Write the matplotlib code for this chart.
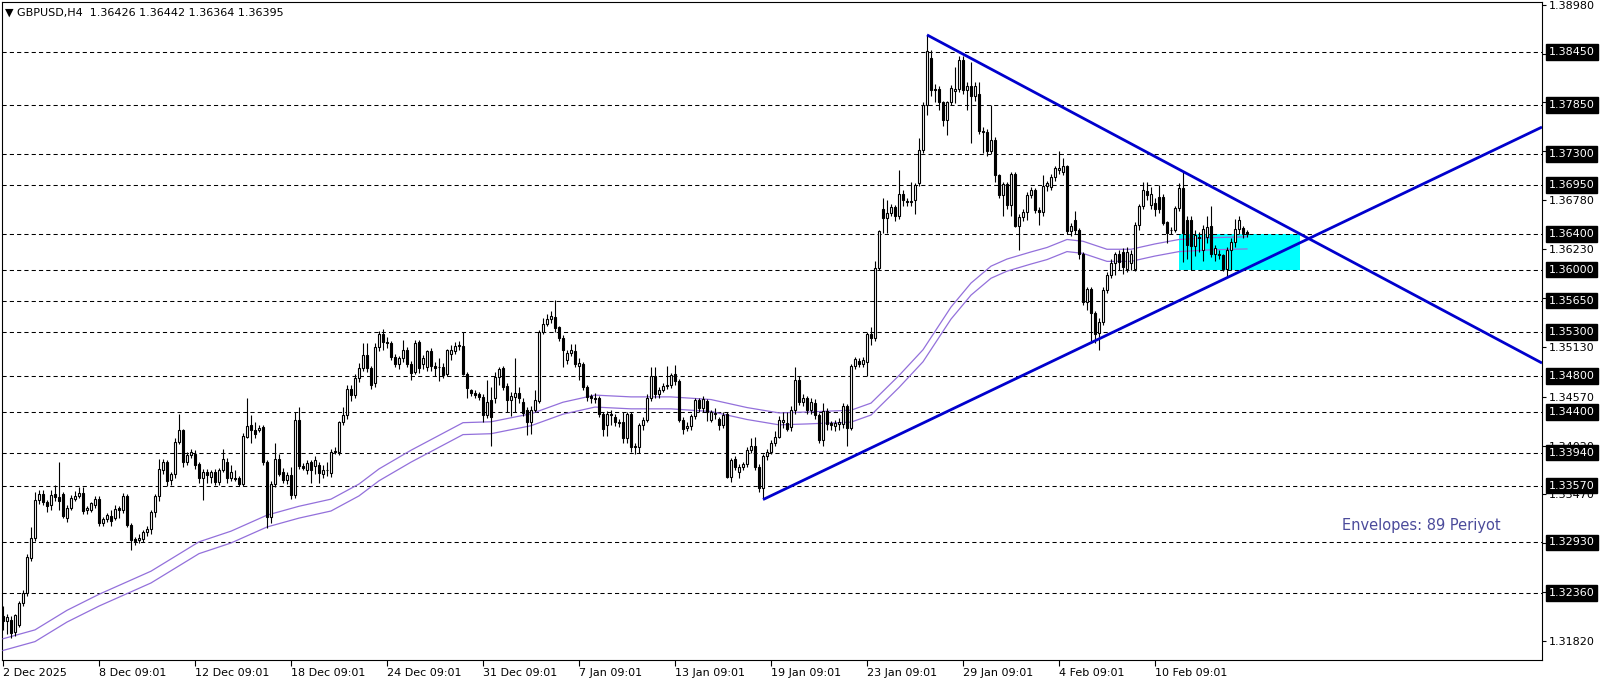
import matplotlib
matplotlib.use("Agg")
import matplotlib.pyplot as plt
from matplotlib.patches import Rectangle
from matplotlib.transforms import blended_transform_factory
import numpy as np

# GBPUSD H4 candles
opens = [
    1.3210, 1.3205, 1.3206, 1.3192, 1.3200, 1.3225, 1.3236, 1.3275, 1.3298, 1.3341,
    1.3348, 1.3338, 1.3335, 1.3348, 1.3344, 1.3348, 1.3321, 1.3332, 1.3342, 1.3345,
    1.3349, 1.3329, 1.3329, 1.3335, 1.3342, 1.3315, 1.3319, 1.3323, 1.3321, 1.3332,
    1.3329, 1.3345, 1.3313, 1.3297, 1.3296, 1.3297, 1.3305, 1.3308, 1.3327, 1.3345,
    1.3374, 1.3383, 1.3363, 1.3370, 1.3406, 1.3419, 1.3384, 1.3391, 1.3393, 1.3381,
    1.3366, 1.3372, 1.3367, 1.3372, 1.3361, 1.3374, 1.3384, 1.3366, 1.3366, 1.3365,
    1.3359, 1.3412, 1.3425, 1.3420, 1.3420, 1.3423, 1.3384, 1.3322, 1.3359, 1.3387,
    1.3372, 1.3363, 1.3369, 1.3346, 1.3431, 1.3379, 1.3374, 1.3383, 1.3379, 1.3380,
    1.3370, 1.3375, 1.3371, 1.3395, 1.3395, 1.3428, 1.3436, 1.3466, 1.3459, 1.3478,
    1.3489, 1.3504, 1.3489, 1.3472, 1.3513, 1.3528, 1.3519, 1.3517, 1.3502, 1.3494,
    1.3500, 1.3510, 1.3494, 1.3485, 1.3518, 1.3494, 1.3490, 1.3508, 1.3491, 1.3490,
    1.3490, 1.3483, 1.3505, 1.3508, 1.3514, 1.3514, 1.3483, 1.3464, 1.3461, 1.3460,
    1.3457, 1.3436, 1.3453, 1.3455, 1.3479, 1.3489, 1.3469, 1.3453, 1.3457, 1.3461,
    1.3451, 1.3442, 1.3429, 1.3442, 1.3452, 1.3530, 1.3539, 1.3544, 1.3547, 1.3535,
    1.3523, 1.3498, 1.3506, 1.3508, 1.3492, 1.3494, 1.3468, 1.3458, 1.3456, 1.3455,
    1.3438, 1.3425, 1.3436, 1.3434, 1.3427, 1.3429, 1.3410, 1.3437, 1.3402, 1.3400,
    1.3425, 1.3431, 1.3455, 1.3480, 1.3460, 1.3465, 1.3469, 1.3470, 1.3482, 1.3475,
    1.3431, 1.3422, 1.3424, 1.3435, 1.3453, 1.3444, 1.3452, 1.3431, 1.3437, 1.3432,
    1.3425, 1.3438, 1.3367, 1.3387, 1.3372, 1.3378, 1.3381, 1.3397, 1.3401, 1.3378,
    1.3354, 1.3390, 1.3395, 1.3405, 1.3412, 1.3428, 1.3427, 1.3423, 1.3442, 1.3476,
    1.3451, 1.3455, 1.3442, 1.3450, 1.3436, 1.3408, 1.3441, 1.3427, 1.3424, 1.3426,
    1.3426, 1.3446, 1.3422, 1.3491, 1.3497, 1.3494, 1.3496, 1.3527, 1.3523, 1.3602,
    1.3668, 1.3658, 1.3664, 1.3670, 1.3660, 1.3685, 1.3677, 1.3676, 1.3678, 1.3697,
    1.3735, 1.3785, 1.3838, 1.3803, 1.3803, 1.3788, 1.3768, 1.3788, 1.3801, 1.3803,
    1.3836, 1.3802, 1.3806, 1.3795, 1.3797, 1.3756, 1.3755, 1.3733, 1.3746, 1.3706,
    1.3684, 1.3696, 1.3673, 1.3707, 1.3649, 1.3659, 1.3665, 1.3684, 1.3689, 1.3667,
    1.3665, 1.3694, 1.3693, 1.3704, 1.3712, 1.3710, 1.3716, 1.3643, 1.3656, 1.3645,
    1.3618, 1.3563, 1.3578, 1.3551, 1.3529, 1.3541, 1.3577, 1.3594, 1.3607, 1.3617,
    1.3620, 1.3601, 1.3607, 1.3601, 1.3650, 1.3671, 1.3688, 1.3673, 1.3675, 1.3682,
    1.3682, 1.3653, 1.3644, 1.3645, 1.3669, 1.3692, 1.3656, 1.3656, 1.3626, 1.3635,
    1.3622, 1.3637, 1.3649, 1.3618, 1.3616, 1.3616, 1.3601, 1.3622, 1.3631, 1.3646,
    1.3647, 1.36426,
]
highs = [
    1.3222, 1.3213, 1.3210, 1.3213, 1.3227, 1.3240, 1.3280, 1.3310, 1.3350, 1.3352,
    1.3352, 1.3341, 1.3352, 1.3358, 1.3384, 1.3350, 1.3335, 1.3346, 1.3351, 1.3355,
    1.3355, 1.3334, 1.3339, 1.3345, 1.3345, 1.3322, 1.3326, 1.3330, 1.3335, 1.3334,
    1.3349, 1.3347, 1.3315, 1.3299, 1.3302, 1.3307, 1.3312, 1.3330, 1.3348, 1.3387,
    1.3387, 1.3386, 1.3372, 1.3410, 1.3438, 1.3421, 1.3395, 1.3398, 1.3397, 1.3383,
    1.3376, 1.3376, 1.3375, 1.3376, 1.3377, 1.3398, 1.3388, 1.3380, 1.3375, 1.3368,
    1.3416, 1.3455, 1.3436, 1.3428, 1.3425, 1.3425, 1.3386, 1.3362, 1.3405, 1.3392,
    1.3377, 1.3372, 1.3378, 1.3440, 1.3445, 1.3382, 1.3386, 1.3386, 1.3390, 1.3384,
    1.3380, 1.3384, 1.3398, 1.3400, 1.3430, 1.3445, 1.3470, 1.3470, 1.3482, 1.3495,
    1.3517, 1.3517, 1.3492, 1.3517, 1.3531, 1.3533, 1.3524, 1.3520, 1.3505, 1.3503,
    1.3521, 1.3513, 1.3497, 1.3521, 1.3521, 1.3504, 1.3510, 1.3512, 1.3496, 1.3500,
    1.3495, 1.3511, 1.3515, 1.3518, 1.3520, 1.3530, 1.3485, 1.3466, 1.3464, 1.3462,
    1.3460, 1.3476, 1.3468, 1.3485, 1.3490, 1.3492, 1.3472, 1.3462, 1.3500, 1.3468,
    1.3455, 1.3445, 1.3446, 1.3465, 1.3532, 1.3545, 1.3550, 1.3553, 1.3566, 1.3537,
    1.3526, 1.3510, 1.3516, 1.3516, 1.3500, 1.3496, 1.3470, 1.3460, 1.3461, 1.3458,
    1.3440, 1.3441, 1.3442, 1.3437, 1.3432, 1.3440, 1.3440, 1.3440, 1.3405, 1.3427,
    1.3434, 1.3460, 1.3490, 1.3490, 1.3468, 1.3472, 1.3492, 1.3484, 1.3493, 1.3477,
    1.3434, 1.3428, 1.3438, 1.3456, 1.3455, 1.3458, 1.3454, 1.3442, 1.3444, 1.3434,
    1.3440, 1.3440, 1.3388, 1.3390, 1.3381, 1.3383, 1.3400, 1.3410, 1.3412, 1.3381,
    1.3392, 1.3398, 1.3408, 1.3418, 1.3435, 1.3440, 1.3440, 1.3446, 1.3490, 1.3480,
    1.3460, 1.3458, 1.3455, 1.3454, 1.3439, 1.3450, 1.3444, 1.3430, 1.3431, 1.3433,
    1.3450, 1.3449, 1.3494, 1.3502, 1.3500, 1.3502, 1.3530, 1.3535, 1.3610, 1.3645,
    1.3680, 1.3678, 1.3674, 1.3673, 1.3712, 1.3690, 1.3680, 1.3699, 1.3697, 1.3748,
    1.3788, 1.3864, 1.3847, 1.3809, 1.3806, 1.3790, 1.3790, 1.3808, 1.3828, 1.3840,
    1.3840, 1.3811, 1.3833, 1.3811, 1.3811, 1.3760, 1.3758, 1.3785, 1.3749, 1.3708,
    1.3699, 1.3699, 1.3710, 1.3710, 1.3662, 1.3668, 1.3687, 1.3693, 1.3692, 1.3670,
    1.3706, 1.3700, 1.3707, 1.3716, 1.3733, 1.3725, 1.3718, 1.3652, 1.3666, 1.3647,
    1.3620, 1.3580, 1.3580, 1.3553, 1.3545, 1.3580, 1.3597, 1.3612, 1.3620, 1.3622,
    1.3624, 1.3625, 1.3622, 1.3654, 1.3674, 1.3699, 1.3699, 1.3693, 1.3681, 1.3695,
    1.3685, 1.3655, 1.3648, 1.3672, 1.3697, 1.3710, 1.3660, 1.3660, 1.3645, 1.3642,
    1.3650, 1.3660, 1.3671, 1.3628, 1.3622, 1.3618, 1.3625, 1.3635, 1.3657, 1.3660,
    1.3649, 1.36442,
]
lows = [
    1.3195, 1.3190, 1.3185, 1.3188, 1.3198, 1.3222, 1.3233, 1.3272, 1.3295, 1.3336,
    1.3335, 1.3327, 1.3330, 1.3340, 1.3329, 1.3320, 1.3316, 1.3330, 1.3340, 1.3343,
    1.3325, 1.3325, 1.3327, 1.3332, 1.3312, 1.3311, 1.3316, 1.3312, 1.3318, 1.3320,
    1.3326, 1.3310, 1.3284, 1.3290, 1.3292, 1.3294, 1.3300, 1.3302, 1.3322, 1.3340,
    1.3370, 1.3357, 1.3358, 1.3366, 1.3404, 1.3378, 1.3380, 1.3388, 1.3376, 1.3360,
    1.3341, 1.3360, 1.3360, 1.3358, 1.3358, 1.3372, 1.3360, 1.3362, 1.3362, 1.3357,
    1.3357, 1.3410, 1.3405, 1.3411, 1.3417, 1.3380, 1.3309, 1.3315, 1.3355, 1.3368,
    1.3360, 1.3359, 1.3342, 1.3343, 1.3376, 1.3374, 1.3370, 1.3360, 1.3370, 1.3360,
    1.3366, 1.3368, 1.3367, 1.3392, 1.3391, 1.3425, 1.3432, 1.3452, 1.3455, 1.3474,
    1.3486, 1.3485, 1.3466, 1.3468, 1.3508, 1.3510, 1.3512, 1.3498, 1.3490, 1.3488,
    1.3496, 1.3490, 1.3476, 1.3482, 1.3484, 1.3488, 1.3486, 1.3486, 1.3480, 1.3475,
    1.3478, 1.3480, 1.3498, 1.3505, 1.3510, 1.3481, 1.3455, 1.3458, 1.3455, 1.3453,
    1.3429, 1.3433, 1.3401, 1.3450, 1.3470, 1.3465, 1.3440, 1.3435, 1.3440, 1.3450,
    1.3435, 1.3414, 1.3415, 1.3440, 1.3450, 1.3527, 1.3536, 1.3540, 1.3530, 1.3520,
    1.3490, 1.3494, 1.3503, 1.3490, 1.3476, 1.3465, 1.3452, 1.3450, 1.3450, 1.3434,
    1.3413, 1.3413, 1.3425, 1.3424, 1.3423, 1.3405, 1.3405, 1.3395, 1.3392, 1.3394,
    1.3420, 1.3428, 1.3452, 1.3456, 1.3456, 1.3462, 1.3466, 1.3467, 1.3470, 1.3428,
    1.3415, 1.3418, 1.3420, 1.3432, 1.3440, 1.3440, 1.3430, 1.3428, 1.3432, 1.3420,
    1.3422, 1.3365, 1.3361, 1.3374, 1.3366, 1.3375, 1.3378, 1.3394, 1.3374, 1.3350,
    1.3343, 1.3386, 1.3392, 1.3402, 1.3410, 1.3422, 1.3418, 1.3418, 1.3438, 1.3448,
    1.3447, 1.3438, 1.3438, 1.3432, 1.3405, 1.3401, 1.3420, 1.3420, 1.3418, 1.3420,
    1.3422, 1.3401, 1.3420, 1.3488, 1.3490, 1.3490, 1.3480, 1.3515, 1.3520, 1.3600,
    1.3641, 1.3641, 1.3660, 1.3655, 1.3657, 1.3672, 1.3672, 1.3672, 1.3663, 1.3694,
    1.3731, 1.3774, 1.3795, 1.3788, 1.3780, 1.3761, 1.3751, 1.3785, 1.3787, 1.3800,
    1.3798, 1.3780, 1.3742, 1.3790, 1.3752, 1.3731, 1.3728, 1.3730, 1.3699, 1.3680,
    1.3660, 1.3668, 1.3660, 1.3648, 1.3622, 1.3655, 1.3656, 1.3680, 1.3664, 1.3650,
    1.3660, 1.3688, 1.3690, 1.3700, 1.3708, 1.3706, 1.3640, 1.3638, 1.3640, 1.3612,
    1.3560, 1.3555, 1.3517, 1.3517, 1.3510, 1.3538, 1.3574, 1.3590, 1.3594, 1.3600,
    1.3595, 1.3597, 1.3600, 1.3598, 1.3645, 1.3668, 1.3678, 1.3668, 1.3660, 1.3664,
    1.3650, 1.3630, 1.3640, 1.3642, 1.3666, 1.3609, 1.3612, 1.3600, 1.3615, 1.3620,
    1.3610, 1.3630, 1.3614, 1.3610, 1.3612, 1.3598, 1.3592, 1.3600, 1.3625, 1.3640,
    1.3635, 1.36364,
]
closes = [
    1.3205, 1.3209, 1.3191, 1.3211, 1.3225, 1.3236, 1.3277, 1.3298, 1.3341, 1.3348,
    1.3338, 1.3334, 1.3346, 1.3344, 1.3340, 1.3323, 1.3332, 1.3343, 1.3345, 1.3349,
    1.3328, 1.3332, 1.3337, 1.3342, 1.3315, 1.3319, 1.3324, 1.3317, 1.3331, 1.3329,
    1.3345, 1.3313, 1.3296, 1.3295, 1.3298, 1.3305, 1.3308, 1.3327, 1.3345, 1.3376,
    1.3383, 1.3362, 1.3370, 1.3406, 1.3419, 1.3383, 1.3391, 1.3395, 1.3380, 1.3365,
    1.3372, 1.3369, 1.3372, 1.3361, 1.3374, 1.3387, 1.3365, 1.3372, 1.3364, 1.3359,
    1.3413, 1.3424, 1.3419, 1.3415, 1.3422, 1.3384, 1.3322, 1.3359, 1.3387, 1.3370,
    1.3363, 1.3369, 1.3346, 1.3431, 1.3379, 1.3377, 1.3382, 1.3374, 1.3386, 1.3371,
    1.3375, 1.3374, 1.3395, 1.3396, 1.3428, 1.3436, 1.3466, 1.3459, 1.3478, 1.3489,
    1.3504, 1.3489, 1.3470, 1.3513, 1.3528, 1.3519, 1.3517, 1.3502, 1.3494, 1.3500,
    1.3510, 1.3494, 1.3484, 1.3517, 1.3489, 1.3501, 1.3508, 1.3491, 1.3489, 1.3490,
    1.3481, 1.3509, 1.3509, 1.3514, 1.3515, 1.3483, 1.3467, 1.3461, 1.3459, 1.3457,
    1.3436, 1.3451, 1.3434, 1.3479, 1.3488, 1.3468, 1.3453, 1.3458, 1.3461, 1.3455,
    1.3439, 1.3428, 1.3442, 1.3453, 1.3530, 1.3539, 1.3544, 1.3548, 1.3534, 1.3523,
    1.3509, 1.3506, 1.3509, 1.3494, 1.3495, 1.3468, 1.3457, 1.3455, 1.3454, 1.3438,
    1.3421, 1.3438, 1.3438, 1.3428, 1.3428, 1.3410, 1.3437, 1.3400, 1.3400, 1.3425,
    1.3431, 1.3455, 1.3480, 1.3460, 1.3465, 1.3469, 1.3470, 1.3481, 1.3475, 1.3431,
    1.3421, 1.3424, 1.3435, 1.3453, 1.3444, 1.3454, 1.3440, 1.3440, 1.3439, 1.3425,
    1.3436, 1.3367, 1.3386, 1.3378, 1.3378, 1.3381, 1.3397, 1.3401, 1.3378, 1.3354,
    1.3390, 1.3395, 1.3405, 1.3412, 1.3431, 1.3431, 1.3421, 1.3442, 1.3476, 1.3451,
    1.3455, 1.3442, 1.3451, 1.3436, 1.3408, 1.3441, 1.3426, 1.3425, 1.3427, 1.3429,
    1.3446, 1.3422, 1.3491, 1.3499, 1.3494, 1.3498, 1.3527, 1.3523, 1.3602, 1.3643,
    1.3658, 1.3664, 1.3670, 1.3660, 1.3685, 1.3678, 1.3676, 1.3677, 1.3695, 1.3735,
    1.3785, 1.3846, 1.3802, 1.3802, 1.3788, 1.3768, 1.3788, 1.3804, 1.3803, 1.3836,
    1.3802, 1.3806, 1.3795, 1.3806, 1.3756, 1.3755, 1.3733, 1.3746, 1.3706, 1.3684,
    1.3696, 1.3673, 1.3707, 1.3649, 1.3659, 1.3665, 1.3684, 1.3689, 1.3667, 1.3665,
    1.3694, 1.3697, 1.3704, 1.3714, 1.3714, 1.3716, 1.3643, 1.3649, 1.3645, 1.3618,
    1.3563, 1.3578, 1.3551, 1.3528, 1.3541, 1.3577, 1.3594, 1.3607, 1.3617, 1.3608,
    1.3603, 1.3620, 1.3618, 1.3650, 1.3671, 1.3690, 1.3684, 1.3685, 1.3668, 1.3668,
    1.3652, 1.3641, 1.3645, 1.3669, 1.3692, 1.3641, 1.3628, 1.3626, 1.3639, 1.3637,
    1.3646, 1.3648, 1.3618, 1.3624, 1.3617, 1.3601, 1.3622, 1.3631, 1.3646, 1.3656,
    1.3641, 1.36395,
]

# Envelopes(89) middle line, read at some bars; bands are +/- 0.05 %
env_bars = [0, 8, 16, 24, 37, 49, 57, 66, 74, 82, 89, 94, 102, 115, 122, 132, 140,
            148, 157, 167, 177, 186, 194, 201, 212, 217, 224, 230, 237, 242, 247,
            251, 257, 261, 266, 270, 276, 282, 288, 294, 302, 311]
env_mid = [1.3178, 1.3188, 1.3210, 1.3228, 1.3254, 1.3287, 1.3299, 1.3317, 1.3327,
           1.3335, 1.3352, 1.3369, 1.3390, 1.3421, 1.3422, 1.3431, 1.3444, 1.3452,
           1.3450, 1.3450, 1.3447, 1.3438, 1.3432, 1.3433, 1.3435, 1.3443, 1.3474,
           1.3503, 1.3551, 1.3578, 1.3597, 1.3605, 1.3613, 1.3618, 1.3627, 1.3625,
           1.3616, 1.3616, 1.3622, 1.3627, 1.3629, 1.3630]
env_dev = 0.0005

levels = [1.38450, 1.37850, 1.37300, 1.36950, 1.36400, 1.36000, 1.35650,
          1.35300, 1.34800, 1.34400, 1.33940, 1.33570, 1.32930, 1.32360]
price_ticks = [1.38980, 1.38430, 1.37880, 1.37330, 1.36780, 1.36230, 1.35680,
               1.35130, 1.34570, 1.34020, 1.33470, 1.32920, 1.32370, 1.31820]

date_bars = [0, 24, 48, 72, 96, 120, 144, 168, 192, 216, 240, 264, 288]
date_labels = ["2 Dec 2025", "8 Dec 09:01", "12 Dec 09:01", "18 Dec 09:01",
               "24 Dec 09:01", "31 Dec 09:01", "7 Jan 09:01", "13 Jan 09:01",
               "19 Jan 09:01", "23 Jan 09:01", "29 Jan 09:01", "4 Feb 09:01",
               "10 Feb 09:01"]

# trend lines: (bar, price) anchor pairs, extended to the right edge
down_line = [(231, 1.3864), (384.75, 1.34948)]
up_line = [(190, 1.33412), (384.75, 1.37603)]
box_bars = (294, 324.25)
box_prices = (1.3600, 1.3640)

o = np.array(opens)
h = np.array(highs)
l = np.array(lows)
c = np.array(closes)
idx = np.arange(len(c))

fig = plt.figure(figsize=(16.06, 6.84), dpi=100)
ax = fig.add_axes([2 / 1606, 24 / 684, 1540 / 1606, 658 / 684])
ax.set_xlim(-0.25, 384.75)
ax.set_ylim(1.31607, 1.39010)

# cyan zone
ax.add_patch(Rectangle((box_bars[0], box_prices[0]), box_bars[1] - box_bars[0],
                       box_prices[1] - box_prices[0], facecolor="#00ffff",
                       edgecolor="none", zorder=1))

for lv in levels:
    ax.axhline(lv, color="black", lw=0.75, ls=(0, (4, 3)), zorder=2)

mid = np.array(env_mid)
ax.plot(env_bars, mid * (1 + env_dev), color="#9370db", lw=0.9, zorder=3)
ax.plot(env_bars, mid * (1 - env_dev), color="#9370db", lw=0.9, zorder=3)

# candles
up = c >= o
ax.vlines(idx, l, h, color="black", lw=0.8, zorder=4)
body = np.maximum(np.abs(c - o), 0.00003)
ax.bar(idx, body, bottom=np.minimum(o, c), width=0.6,
       color=np.where(up, "white", "black"), edgecolor="black",
       linewidth=0.8, zorder=5)

for line in (down_line, up_line):
    xs, ys = zip(*line)
    ax.plot(xs, ys, color="#0000cd", lw=2.0, zorder=6, solid_capstyle="butt")

# axes styling (MT4 look)
for sp in ax.spines.values():
    sp.set_linewidth(0.8)
ax.yaxis.tick_right()
ax.set_yticks(price_ticks)
ax.set_yticklabels([f"{p:.5f}" for p in price_ticks])
ax.tick_params(axis="y", direction="out", length=3, width=0.8, pad=2,
               labelsize=8)
ax.set_xticks(date_bars)
ax.set_xticklabels(date_labels, ha="left")
ax.tick_params(axis="x", direction="out", length=4, width=0.8, pad=2,
               labelsize=8)

trans = blended_transform_factory(ax.transAxes, ax.transData)
for lv in levels:
    ax.text(1.0045, lv, f"{lv:.5f}", transform=trans, color="white",
            fontsize=8, va="center", ha="left", clip_on=False, zorder=10,
            bbox=dict(boxstyle="square,pad=0.25", fc="black", ec="black"))

ax.text(0.9214, 0.205, "Envelopes: 89 Periyot", transform=ax.transAxes,
        color="#4b4b9b", fontsize=10.5, ha="center", va="center")

fig.text(5 / 1606, 1 - 13 / 684,
         "\u25bc GBPUSD,H4  " + " ".join(f"{v:.5f}" for v in
                                        (opens[-1], highs[-1], lows[-1], closes[-1])),
         fontsize=8, va="center", ha="left")

fig.savefig("out.png", dpi=100, facecolor="white")
